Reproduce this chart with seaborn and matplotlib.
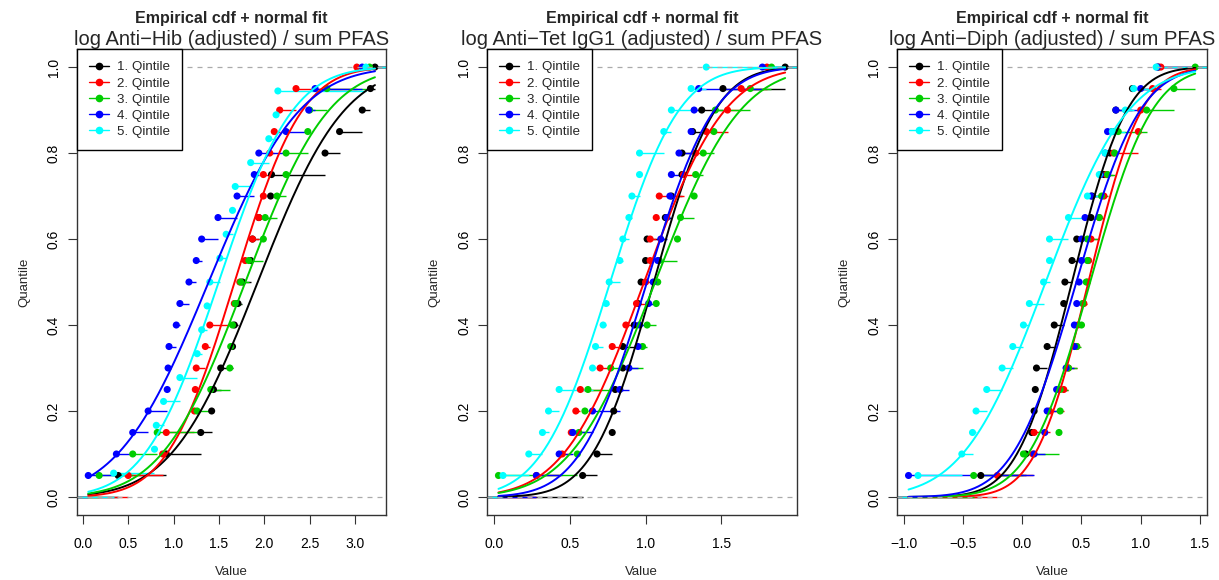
import math
import numpy as np
import matplotlib
matplotlib.use("Agg")
import matplotlib.pyplot as plt
from matplotlib.lines import Line2D
import seaborn as sns

# --- Data (sorted ecdf jump points per quintile) ---
titles = ["log Anti\u2212Hib (adjusted) / sum PFAS",
          "log Anti\u2212Tet IgG1 (adjusted) / sum PFAS",
          "log Anti\u2212Diph (adjusted) / sum PFAS"]
quint_labels = ["1. Qintile", "2. Qintile", "3. Qintile", "4. Qintile", "5. Qintile"]
colors = ["black", "#FF0000", "#00CD00", "#0000FF", "#00FFFF"]

# Anti-Hib
hib_q1 = [0.39, 0.92, 1.30, 1.42, 1.44, 1.52, 1.65, 1.67, 1.71, 1.76,
          1.85, 1.87, 1.94, 2.07, 2.08, 2.67, 2.83, 3.08, 3.17, 3.22]
hib_q2 = [0.50, 0.88, 0.92, 1.23, 1.24, 1.25, 1.35, 1.40, 1.67, 1.73,
          1.79, 1.87, 1.94, 1.99, 1.99, 2.06, 2.11, 2.17, 2.35, 3.02]
hib_q3 = [0.18, 0.55, 0.82, 1.26, 1.41, 1.62, 1.63, 1.65, 1.68, 1.74,
          1.83, 1.99, 2.01, 2.14, 2.24, 2.24, 2.48, 2.50, 2.69, 3.16]
hib_q4 = [0.06, 0.37, 0.55, 0.72, 0.93, 0.94, 0.95, 1.03, 1.07, 1.17,
          1.25, 1.31, 1.49, 1.70, 1.89, 1.94, 2.24, 2.49, 2.56, 3.08]
hib_q5 = [0.34, 0.79, 0.81, 0.89, 1.07, 1.26, 1.31, 1.37, 1.40,
          1.51, 1.58, 1.65, 1.68, 1.85, 2.05, 2.13, 2.15, 3.12]

# Anti-Tet IgG1
tet_q1 = [0.585, 0.68, 0.78, 0.79, 0.80, 0.85, 0.85, 0.925, 0.97, 0.95,
          1.00, 1.01, 1.13, 1.17, 1.24, 1.24, 1.31, 1.37, 1.51, 1.92]
tet_q2 = [0.28, 0.45, 0.51, 0.54, 0.57, 0.70, 0.78, 0.87, 0.94, 1.00,
          1.03, 1.03, 1.07, 1.09, 1.25, 1.33, 1.40, 1.54, 1.63, 1.80]
tet_q3 = [0.03, 0.55, 0.56, 0.60, 0.62, 0.77, 0.98, 1.01, 1.07, 1.08,
          1.09, 1.21, 1.23, 1.32, 1.33, 1.38, 1.45, 1.46, 1.69, 1.83]
tet_q4 = [0.28, 0.43, 0.52, 0.65, 0.83, 0.89, 0.95, 0.96, 1.02, 1.05,
          1.08, 1.10, 1.14, 1.16, 1.17, 1.22, 1.30, 1.32, 1.35, 1.77]
tet_q5 = [0.06, 0.23, 0.32, 0.36, 0.43, 0.65, 0.67, 0.72, 0.74, 0.76,
          0.83, 0.85, 0.89, 0.91, 0.96, 0.96, 1.12, 1.17, 1.30, 1.40]

# Anti-Diph
dip_q1 = [-0.35, 0.03, 0.08, 0.10, 0.11, 0.12, 0.21, 0.27, 0.35, 0.36,
          0.42, 0.46, 0.58, 0.59, 0.69, 0.74, 0.76, 0.79, 0.93, 1.15]
dip_q2 = [-0.21, 0.09, 0.10, 0.23, 0.35, 0.39, 0.46, 0.47, 0.52, 0.55,
          0.56, 0.58, 0.65, 0.69, 0.71, 0.77, 0.98, 1.00, 1.10, 1.17]
dip_q3 = [-0.41, 0.01, 0.31, 0.32, 0.32, 0.39, 0.46, 0.50, 0.51, 0.54,
          0.55, 0.55, 0.65, 0.67, 0.72, 0.78, 0.81, 1.05, 1.28, 1.46]
dip_q4 = [-0.96, 0.10, 0.19, 0.21, 0.29, 0.37, 0.44, 0.44, 0.46, 0.48,
          0.50, 0.50, 0.53, 0.58, 0.66, 0.70, 0.72, 0.79, 1.00, 1.14]
dip_q5 = [-0.88, -0.51, -0.42, -0.39, -0.30, -0.17, -0.08, 0.01, 0.06, 0.18,
          0.23, 0.23, 0.39, 0.55, 0.65, 0.70, 0.76, 0.87, 0.94, 1.13]

panels = [
    (titles[0], [hib_q1, hib_q2, hib_q3, hib_q4, hib_q5], [0.0, 0.5, 1.0, 1.5, 2.0, 2.5, 3.0]),
    (titles[1], [tet_q1, tet_q2, tet_q3, tet_q4, tet_q5], [0.0, 0.5, 1.0, 1.5]),
    (titles[2], [dip_q1, dip_q2, dip_q3, dip_q4, dip_q5], [-1.0, -0.5, 0.0, 0.5, 1.0, 1.5]),
]

sns.set_style("ticks")
plt.rcParams["font.family"] = ["Liberation Sans", "DejaVu Sans"]


def norm_cdf(g, m, s):
    return np.array([0.5 * (1 + math.erf((v - m) / (s * math.sqrt(2)))) for v in g])


fig = plt.figure(figsize=(12.19, 5.8), dpi=100)
lefts = [0.063, 0.3995, 0.7359]

for p, (title, series, xticks) in enumerate(panels):
    ax = fig.add_axes([lefts[p], 0.112, 0.254, 0.8035])
    allx = np.concatenate([np.asarray(s) for s in series])
    lo, hi = allx.min(), allx.max()
    pad = 0.04 * (hi - lo)
    xl = (lo - pad, hi + pad)
    grid = np.linspace(lo, hi, 300)

    for q, vals in enumerate(series):
        x = np.sort(np.asarray(vals, dtype=float))
        n = len(x)
        y = np.arange(1, n + 1) / n
        ends = np.append(x[1:], xl[1])
        ax.hlines(y, x, ends, color=colors[q], lw=1.0, zorder=2)
        ax.hlines(0, xl[0], x[0], color=colors[q], lw=1.0, zorder=2)
        sns.scatterplot(x=x, y=y, color=colors[q], s=26, edgecolor="none",
                        ax=ax, zorder=3, legend=False)
        m, s = x.mean(), x.std(ddof=1)
        sns.lineplot(x=grid, y=norm_cdf(grid, m, s), color=colors[q], lw=1.4,
                     ax=ax, zorder=4, legend=False)

    ax.axhline(0, color="#AAAAAA", lw=0.9, ls=(0, (4, 4)), zorder=5)
    ax.axhline(1, color="#AAAAAA", lw=0.9, ls=(0, (4, 4)), zorder=5)

    ax.set_xlim(*xl)
    ax.set_ylim(-0.042, 1.042)
    ax.set_xticks(xticks)
    ax.set_xticklabels([f"{t:.1f}".replace("-", "\u2212") for t in xticks])
    ax.set_yticks([0.0, 0.2, 0.4, 0.6, 0.8, 1.0])
    ax.set_yticklabels(["0.0", "0.2", "0.4", "0.6", "0.8", "1.0"], rotation=90, va="center")
    ax.tick_params(direction="out", length=6.5, width=0.8, labelsize=10, colors="#333333",
                   labelcolor="black")
    ax.tick_params(axis="x", pad=9)
    ax.tick_params(axis="y", pad=5)
    for sp in ax.spines.values():
        sp.set_color("#333333")
        sp.set_linewidth(1.0)
    ax.set_xlabel("Value", fontsize=9.5, labelpad=11)
    ax.set_ylabel("Quantile", fontsize=9.5, labelpad=12)
    ax.set_title(title, fontsize=14.5, pad=3)
    ax.text(0.5, 1.056, "Empirical cdf + normal fit", transform=ax.transAxes,
            ha="center", va="baseline", fontsize=11.5, fontweight="bold")

    handles = [Line2D([0], [0], color=c, lw=1.0, marker="o", markersize=4.5) for c in colors]
    leg = ax.legend(handles, quint_labels, loc="upper left", borderaxespad=0,
                    fontsize=9.6, frameon=True, fancybox=False, handlelength=1.5,
                    labelspacing=0.29, borderpad=0.9, handletextpad=0.6)
    leg.get_frame().set_edgecolor("black")
    leg.get_frame().set_linewidth(1.0)
    leg.get_frame().set_alpha(1)

fig.savefig("out.png", dpi=100)
